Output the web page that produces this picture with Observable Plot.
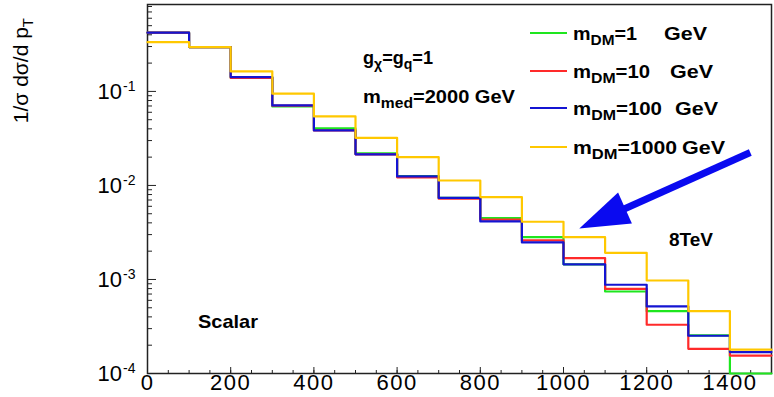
<!DOCTYPE html>
<html><head><meta charset="utf-8">
<script src="https://cdn.jsdelivr.net/npm/d3@7"></script>
<script src="https://cdn.jsdelivr.net/npm/@observablehq/plot@0.6"></script>
<style>html,body{margin:0;padding:0;background:#fff}svg{display:block}</style>
</head><body><div id="chart"></div>
<script>
// bin left edges (GeV); histogram is 15 bins of 100 GeV from 0 to 1500
const binEdges = [0,100,200,300,400,500,600,700,800,900,1000,1100,1200,1300,1400];
const xMax = 1500;
const seriesNames = ["m_DM=1 GeV","m_DM=10 GeV","m_DM=100 GeV","m_DM=1000 GeV"];
const seriesColors = ["#1ee61e","#ff2a2a","#1414d2","#ffc800"];
// 1/sigma dsigma/dpT per bin
const mDM1    = [0.421,0.296,0.141,0.0692,0.0404,0.0219,0.0126,0.0074,0.00449,0.00282,0.00145,0.000745,0.000460,0.000254,0.00005];
const mDM10   = [0.421,0.296,0.139,0.0705,0.0385,0.0214,0.0122,0.00722,0.00432,0.00260,0.00169,0.000796,0.000330,0.000183,0.000155];
const mDM100  = [0.421,0.296,0.142,0.0710,0.0385,0.0214,0.01247,0.00736,0.00414,0.00248,0.00145,0.000879,0.000517,0.000252,0.000169];
const mDM1000 = [0.334,0.296,0.163,0.0946,0.0542,0.0321,0.0200,0.01129,0.00752,0.00411,0.00282,0.00192,0.000975,0.000460,0.000179];
const seriesValues = [mDM1, mDM10, mDM100, mDM1000];
const xTicksMajor = [0,200,400,600,800,1000,1200,1400];
const yDecades = [1e-4,1e-3,1e-2,1e-1];
const yDecadeExp = ["-4","-3","-2","-1"];
// arrow annotation in data coordinates
const arrowTail = {x: 1449, y: 0.0224};
const arrowNeck = {x: 1127, y: 0.00516};
const arrowTip  = {x: 1038, y: 0.00349};

const rows = [];
seriesValues.forEach((vals, s) => {
  vals.forEach((v, i) => rows.push({s, x: binEdges[i], y: v}));
  rows.push({s, x: xMax, y: vals[vals.length - 1]});
});
const minorY = [];
for (const d of yDecades) for (let k = 2; k <= 9; k++) { const v = k * d; if (v <= 0.84) minorY.push(v); }

const headSymbol = {draw(ctx) { ctx.moveTo(0, 0); ctx.lineTo(-17, 50); ctx.lineTo(17, 50); ctx.closePath(); }};
const font = "'Liberation Sans', Arial, Helvetica, sans-serif";

const plot = Plot.plot({
  width: 774, height: 397,
  marginLeft: 147, marginRight: 3, marginTop: 4, marginBottom: 24,
  style: {fontFamily: font, background: "#fff", color: "#000"},
  x: {domain: [0, xMax], axis: null},
  y: {type: "log", domain: [1e-4, 0.84], clamp: true, axis: null},
  marks: [
    Plot.axisX({ticks: d3.range(0, 1501, 50), tickSize: -3, tickFormat: () => "", label: null, stroke: "#222"}),
    Plot.axisX({ticks: xTicksMajor, tickSize: -6, tickPadding: 7, tickFormat: d => String(d), label: null, fontSize: 22, stroke: "#222", fill: "#000"}),
    Plot.axisY({ticks: minorY, tickSize: -5, tickFormat: () => "", label: null, stroke: "#222"}),
    Plot.axisY({ticks: yDecades, tickSize: -9, tickFormat: () => "", label: null, stroke: "#222"}),
    Plot.frame({stroke: "#222", strokeWidth: 1.5}),
    ...seriesValues.map((_, s) => Plot.line(rows.filter(r => r.s === s), {x: "x", y: "y", curve: "step-after", stroke: seriesColors[s], strokeWidth: 2.2})),
    Plot.link([arrowTail], {x1: "x", y1: "y", x2: () => arrowNeck.x, y2: () => arrowNeck.y, stroke: "#0a0af0", strokeWidth: 7}),
    Plot.dot([arrowTip], {x: "x", y: "y", symbol: headSymbol, rotate: 246, r: 10, fill: "#0a0af0", stroke: "none"})
  ]
});
document.getElementById("chart").appendChild(plot);

const svg = d3.select(plot);
const ys = plot.scale("y");
// slightly wider x tick labels, as in the reference
svg.selectAll("g[aria-label='x-axis tick label'] text").attr("letter-spacing", 1.5);
// y tick labels 10^n
yDecades.forEach((v, i) => {
  const py = ys.apply(v);
  svg.append("text").attr("x", 122).attr("y", py + 8).attr("text-anchor", "end")
    .attr("font-family", font).attr("font-size", 22).text("10");
  svg.append("text").attr("x", 123).attr("y", py).attr("text-anchor", "start")
    .attr("font-family", font).attr("font-size", 14).text(yDecadeExp[i]);
});
// y title
const yt = svg.append("text").attr("transform", "translate(28,18) rotate(-90)").attr("text-anchor", "end")
  .attr("font-family", font).attr("font-size", 21);
yt.append("tspan").text("1/σ dσ/d p");
yt.append("tspan").attr("font-size", 15).attr("dy", 5).text("T");

function richText(x, y, parts, size, len) {
  const t = svg.append("text").attr("x", x).attr("y", y).attr("font-family", font)
    .attr("text-anchor", "start")
    .attr("font-weight", "bold").attr("font-size", size).attr("fill", "#000");
  if (len) t.attr("textLength", len).attr("lengthAdjust", "spacingAndGlyphs");
  let low = false;
  for (const p of parts) {
    const ts = t.append("tspan").text(p.t);
    if (p.sub && !low) { ts.attr("dy", 5).attr("font-size", size * 0.78); low = true; }
    else if (!p.sub && low) { ts.attr("dy", -5); low = false; }
  }
  return t;
}
richText(363, 64, [{t: "g"}, {t: "χ", sub: true}, {t: "=g"}, {t: "q", sub: true}, {t: "=1"}], 18, 70);
richText(363, 103, [{t: "m"}, {t: "med", sub: true}, {t: "=2000 GeV"}], 19, 152);
richText(669, 246, [{t: "8TeV"}], 18, 44);
richText(198, 328, [{t: "Scalar"}], 18.5, 60);

// legend
const legY = [33, 71, 108, 147];
const legNum = ["1", "10", "100", "1000"];
const legLabelLen = [64, 77, 89, 104];
const gevX = [664, 670, 675, 682];
legY.forEach((ly, i) => {
  svg.append("line").attr("x1", 530).attr("x2", 567).attr("y1", ly).attr("y2", ly)
    .attr("stroke", seriesColors[i]).attr("stroke-width", 2.2);
  richText(573, ly + 7, [{t: "m"}, {t: "DM", sub: true}, {t: "=" + legNum[i]}], 18.5, legLabelLen[i]);
  richText(gevX[i], ly + 7, [{t: "GeV"}], 18.5, 43);
});
</script>
</body></html>
